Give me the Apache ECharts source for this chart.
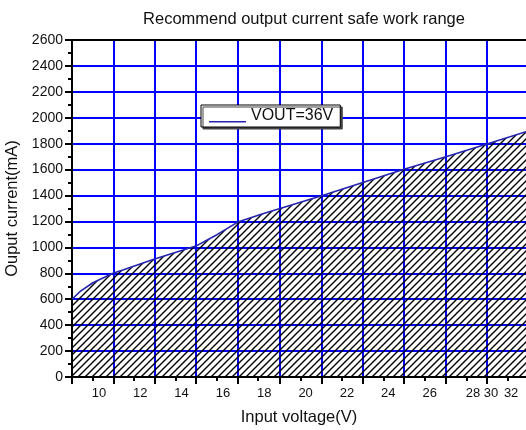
<!DOCTYPE html>
<html>
<head>
<meta charset="utf-8">
<script src="https://cdn.jsdelivr.net/npm/echarts@6/dist/echarts.min.js"></script>
<style>
  html, body { margin: 0; padding: 0; background: #fff; }
  #chart { width: 526px; height: 430px; }
</style>
</head>
<body>
<div id="chart"></div>
<script>
// input voltage (V) and safe output current (mA) along the boundary curve
const voltage = [8.7, 9.08, 9.71, 10.68, 11.16, 12.66, 14.69, 15.71, 16.72, 17.93, 20.74, 22.77, 24.76, 26.79, 28.77, 30.66]
const currentMA = [600, 658, 727, 800, 825, 908, 1010, 1098, 1195, 1260, 1397, 1500, 1602, 1700, 1798, 1893]

// x tick labels as printed, and the axis value each one sits at
const xLabelText = ['10', '12', '14', '16', '18', '20', '22', '24', '26', '28', '30', '32']
const xLabelAt = [10, 12, 14, 16, 18, 20, 22, 24, 26, 28.1, 28.97, 29.94]
// major ticks / grid lines and minor ticks on x
const xMajorAt = [8.7, 10.7, 12.68, 14.69, 16.71, 18.74, 20.76, 22.77, 24.75, 26.77, 28.76]
const xMinorAt = [9.7, 11.7, 13.7, 15.7, 17.7, 19.75, 21.77, 23.76, 25.76, 27.77, 29.76]

const seriesName = 'VOUT=36V'
const font = 'Arial, "Liberation Sans", sans-serif'

// hatch pattern ///
const hatch = document.createElement('canvas')
hatch.width = 7
hatch.height = 7
const hc = hatch.getContext('2d')
hc.strokeStyle = '#000'
hc.lineWidth = 1.4
hc.beginPath()
hc.moveTo(-1, 8); hc.lineTo(8, -1)
hc.moveTo(-4, 4); hc.lineTo(4, -4)
hc.moveTo(3, 11); hc.lineTo(11, 3)
hc.stroke()

const chart = echarts.init(document.getElementById('chart'))
chart.setOption({
  animation: false,
  title: {
    text: 'Recommend output current safe work range',
    left: 299,
    textAlign: 'center',
    top: 6,
    textStyle: { fontFamily: font, fontSize: 16.5, fontWeight: 'normal', color: '#111' }
  },
  legend: {
    data: [{
      name: seriesName,
      // thin line sitting low in the icon box
      icon: 'path://M0,0 L40,0 L40,0.01 L0,0.01 Z M0,12.5 L40,12.5 L40,14 L0,14 Z'
    }],
    left: 201,
    top: 105,
    padding: [3, 7, 3, 8],
    itemWidth: 37,
    itemHeight: 14,
    backgroundColor: '#fff',
    borderColor: '#000',
    borderWidth: 1,
    shadowColor: '#444',
    shadowBlur: 0,
    shadowOffsetX: 2,
    shadowOffsetY: 2,
    textStyle: { fontFamily: font, fontSize: 16, color: '#111' }
  },
  grid: { left: 72, right: 0, top: 40, bottom: 53, outerBoundsMode: 'none', containLabel: false },
  xAxis: [
    {
      type: 'value',
      min: 8.7,
      max: 30.66,
      position: 'bottom',
      name: 'Input voltage(V)',
      nameLocation: 'middle',
      nameGap: 32,
      nameTextStyle: { fontFamily: font, fontSize: 16.5, color: '#111' },
      z: 3,
      axisLine: { lineStyle: { color: '#000', width: 2 } },
      axisTick: { customValues: xMajorAt, length: 7, lineStyle: { color: '#000', width: 2 } },
      axisLabel: {
        customValues: xLabelAt,
        margin: 10,
        fontFamily: font,
        fontSize: 13,
        color: '#111',
        formatter: (v) => {
          let best = 0
          xLabelAt.forEach((p, i) => { if (Math.abs(p - v) < Math.abs(xLabelAt[best] - v)) best = i })
          return xLabelText[best]
        }
      },
      splitLine: { show: true, lineStyle: { color: '#0000ff', width: 2 } }
    },
    {
      type: 'value',
      min: 8.7,
      max: 30.66,
      position: 'bottom',
      z: 3,
      axisLine: { show: false },
      axisTick: { customValues: xMinorAt, length: 4, lineStyle: { color: '#000', width: 2 } },
      axisLabel: { show: false },
      splitLine: { show: false }
    },
    {
      type: 'value',
      min: 8.7,
      max: 30.66,
      position: 'top',
      z: 3,
      axisLine: { lineStyle: { color: '#000', width: 2 } },
      axisTick: { show: false },
      axisLabel: { show: false },
      splitLine: { show: false }
    }
  ],
  yAxis: {
    type: 'value',
    min: 0,
    max: 2600,
    interval: 200,
    name: 'Ouput current(mA)',
    nameLocation: 'middle',
    nameGap: 49,
    nameTextStyle: { fontFamily: font, fontSize: 16.5, color: '#111' },
    z: 3,
    axisLine: { show: true, lineStyle: { color: '#000', width: 2 } },
    axisTick: { show: true, length: 7, lineStyle: { color: '#000', width: 2 } },
    minorTick: { show: true, splitNumber: 2, length: 4, lineStyle: { color: '#000', width: 2 } },
    axisLabel: { margin: 9, fontFamily: font, fontSize: 14, color: '#111', formatter: (v) => String(v) },
    splitLine: { show: true, lineStyle: { color: '#0000ff', width: 2 } }
  },
  series: [
    {
      name: seriesName,
      type: 'line',
      xAxisIndex: 0,
      symbol: 'none',
      data: voltage.map((v, i) => [v, currentMA[i]]),
      lineStyle: { color: '#2323b0', width: 1.6 },
      itemStyle: { color: '#2323b0' },
      areaStyle: { color: { image: hatch, repeat: 'repeat' }, opacity: 1 }
    }
  ]
})
</script>
</body>
</html>
